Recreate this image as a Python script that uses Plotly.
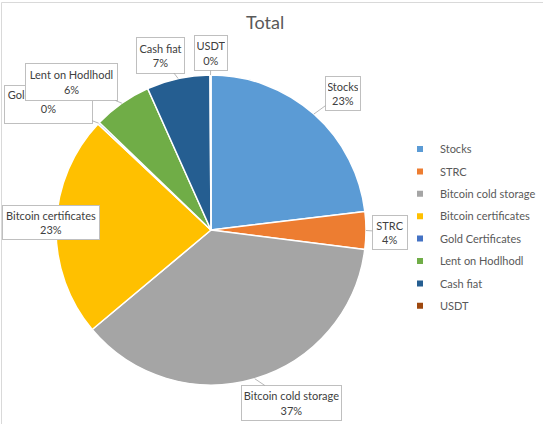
import math
import plotly.graph_objects as go

# ---- data ----
categories = ["Stocks", "STRC", "Bitcoin cold storage", "Bitcoin certificates",
              "Gold Certificates", "Lent on Hodlhodl", "Cash fiat", "USDT"]
values = [23.1, 3.9, 36.9, 23.1, 0.2, 6.1, 6.6, 0.1]
colors = ["#5B9BD5", "#ED7D31", "#A5A5A5", "#FFC000",
          "#4472C4", "#70AD47", "#255E91", "#9E480E"]
title_text = "Total"

# ---- layout constants ----
W, H = 543, 424
CX, CY, R = 211, 230, 155
FONT = "Lato"
# callout box centres (px), total box widths and heights (px)
box_center = {
    "Stocks": (343, 93), "STRC": (390, 232), "Bitcoin cold storage": (291, 403),
    "Bitcoin certificates": (51, 223), "Gold Certificates": (48, 104),
    "Lent on Hodlhodl": (71, 82), "Cash fiat": (160, 55), "USDT": (211, 53),
}
box_width = {
    "Stocks": 36, "STRC": 36, "Bitcoin cold storage": 101,
    "Bitcoin certificates": 98, "Gold Certificates": 89,
    "Lent on Hodlhodl": 93, "Cash fiat": 49, "USDT": 34,
}
box_height = {
    "Stocks": 33, "STRC": 33, "Bitcoin cold storage": 34,
    "Bitcoin certificates": 33, "Gold Certificates": 37,
    "Lent on Hodlhodl": 36, "Cash fiat": 35, "USDT": 34,
}
box_valign = {"Gold Certificates": "top"}
draw_order = ["Stocks", "STRC", "Bitcoin cold storage", "Bitcoin certificates",
              "Gold Certificates", "Lent on Hodlhodl", "Cash fiat", "USDT"]

fig = go.Figure()
fig.add_trace(go.Pie(
    labels=categories, values=values, sort=False, direction="clockwise",
    rotation=0, marker=dict(colors=colors, line=dict(color="white", width=1.5)),
    textinfo="none", showlegend=False, hole=0,
    domain=dict(x=[(CX - R) / W, (CX + R) / W],
                y=[(H - CY - R) / H, (H - CY + R) / H]),
))

# legend entries (small square markers)
for i, (c, col) in enumerate(zip(categories, colors)):
    fig.add_trace(go.Scatter(x=[None], y=[None], mode="markers", name=c,
                             legendgroup=f"g{i}",
                             marker=dict(symbol="square", size=6, color=col)))

total = sum(values)
annotations = []
cum = 0.0
anchors = {}
pcts = {}
for c, v in zip(categories, values):
    mid = (cum + v / 2) / total * 2 * math.pi
    px = CX + R * math.sin(mid)
    py = CY - R * math.cos(mid)
    anchors[c] = (px, py)
    pcts[c] = round(v / total * 100)
    cum += v

for c in draw_order:
    px, py = anchors[c]
    bx, by = box_center[c]
    annotations.append(dict(
        x=px / W, y=1 - py / H, xref="paper", yref="paper",
        ax=bx - px, ay=by - py, axref="pixel", ayref="pixel",
        text=f"{c}<br>{pcts[c]}%", showarrow=True, arrowhead=0,
        arrowwidth=0.8, arrowcolor="#A6A6A6", standoff=0,
        font=dict(family=FONT, size=11, color="#404040"),
        bgcolor="white", bordercolor="#BFBFBF", borderwidth=1, borderpad=2,
        width=box_width[c] - 6, height=box_height[c] - 4, align="center",
        valign=box_valign.get(c, "middle"),
    ))

annotations.append(dict(
    x=265 / W, y=1 - 22 / H, xref="paper", yref="paper", showarrow=False,
    text=title_text, font=dict(family=FONT, size=18, color="#595959"),
    xanchor="center", yanchor="middle"))

fig.update_layout(
    width=W, height=H, margin=dict(l=0, r=0, t=0, b=0),
    paper_bgcolor="white", plot_bgcolor="white",
    xaxis=dict(visible=False), yaxis=dict(visible=False),
    annotations=annotations,
    legend=dict(x=400 / W, xanchor="left", y=1 - 134.5 / H, yanchor="top",
                font=dict(family=FONT, size=11, color="#595959"),
                tracegroupgap=3.4, bgcolor="rgba(0,0,0,0)"),
    shapes=[dict(type="rect", xref="paper", yref="paper",
                 x0=1.5 / W, x1=1.02, y0=-0.02, y1=1 - 2.5 / H,
                 line=dict(color="#D9D9D9", width=1))],
)

fig.write_html(
    "out.html",
    config={"displayModeBar": False},
    post_script="document.body.style.margin='0';document.body.style.overflow='hidden';",
)
